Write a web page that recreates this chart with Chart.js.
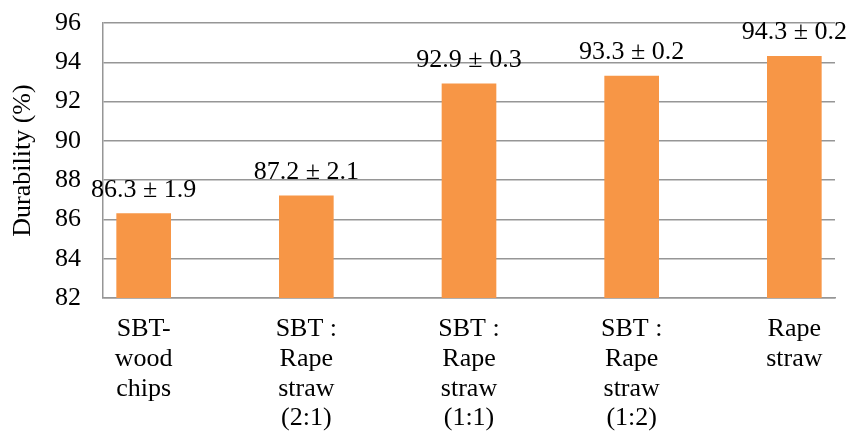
<!DOCTYPE html>
<html>
<head>
<meta charset="utf-8">
<script src="https://cdn.jsdelivr.net/npm/chart.js@4/dist/chart.umd.min.js"></script>
<style>
  body { margin: 0; background: #fff; }
  #wrap { width: 851px; height: 435px; }
</style>
</head>
<body>
<div id="wrap"><canvas id="durabilityChart" width="851" height="435"></canvas></div>
<script>
// categories (multi-line like the original axis)
const categories = [
    ['SBT-', 'wood', 'chips'],
    ['SBT :', 'Rape', 'straw', '(2:1)'],
    ['SBT :', 'Rape', 'straw', '(1:1)'],
    ['SBT :', 'Rape', 'straw', '(1:2)'],
    ['Rape', 'straw']
];
const durability = [86.3, 87.2, 92.9, 93.3, 94.3];
const deviation = [1.9, 2.1, 0.3, 0.2, 0.2];
const yTicks = [82, 84, 86, 88, 90, 92, 94, 96];

const serif = '"Liberation Serif", "Times New Roman", serif';
const gridGray = '#969696';
const fontSize = 26;

// labels "mean ± sd" drawn above each bar
const valueLabels = {
    id: 'valueLabels',
    afterDatasetsDraw(chart) {
        const ctx = chart.ctx;
        const meta = chart.getDatasetMeta(0);
        ctx.save();
        ctx.font = fontSize + 'px ' + serif;
        ctx.fillStyle = '#000';
        ctx.textAlign = 'center';
        ctx.textBaseline = 'alphabetic';
        meta.data.forEach((bar, i) => {
            const txt = durability[i].toFixed(1) + ' \u00b1 ' + deviation[i].toFixed(1);
            ctx.fillText(txt, bar.x, bar.y - 17);
        });
        ctx.restore();
    }
};

const ctx = document.getElementById('durabilityChart').getContext('2d');
new Chart(ctx, {
    type: 'bar',
    data: {
        datasets: [{
            data: durability.map((v, i) => ({ x: i, y: v })),
            backgroundColor: '#F79646',
            borderWidth: 0,
            barThickness: 54
        }]
    },
    options: {
        responsive: false,
        animation: false,
        layout: { padding: { top: 23, right: 16, left: 0, bottom: 0 } },
        plugins: {
            legend: { display: false },
            tooltip: { enabled: false }
        },
        scales: {
            x: {
                type: 'linear',
                offset: false,
                min: -0.25,
                max: 4.25,
                afterBuildTicks: scale => {
                    scale.ticks = categories.map((c, i) => ({ value: i }));
                },
                afterFit: scale => {
                    scale.height = 137;
                    scale.paddingLeft = 0;
                    scale.paddingRight = 0;
                },
                grid: { display: false, drawTicks: false },
                border: { display: true, color: gridGray, width: 1.5 },
                ticks: {
                    autoSkip: false,
                    maxRotation: 0,
                    minRotation: 0,
                    padding: 16,
                    color: '#000',
                    font: { family: serif, size: fontSize, lineHeight: 1.15 },
                    callback: value => categories[value]
                }
            },
            y: {
                min: 82,
                max: 96,
                afterBuildTicks: scale => {
                    scale.ticks = yTicks.map(v => ({ value: v }));
                },
                afterFit: scale => {
                    scale.width = 103;
                    scale.paddingTop = 0;
                    scale.paddingBottom = 0;
                },
                grid: { color: gridGray, lineWidth: 1.5, drawTicks: false },
                border: { display: true, color: gridGray, width: 1.5 },
                ticks: {
                    padding: 22,
                    color: '#000',
                    font: { family: serif, size: fontSize }
                },
                title: {
                    display: true,
                    text: 'Durability (%)',
                    color: '#000',
                    padding: { top: 8, bottom: 0 },
                    font: { family: serif, size: fontSize }
                }
            }
        }
    },
    plugins: [valueLabels]
});
</script>
</body>
</html>
